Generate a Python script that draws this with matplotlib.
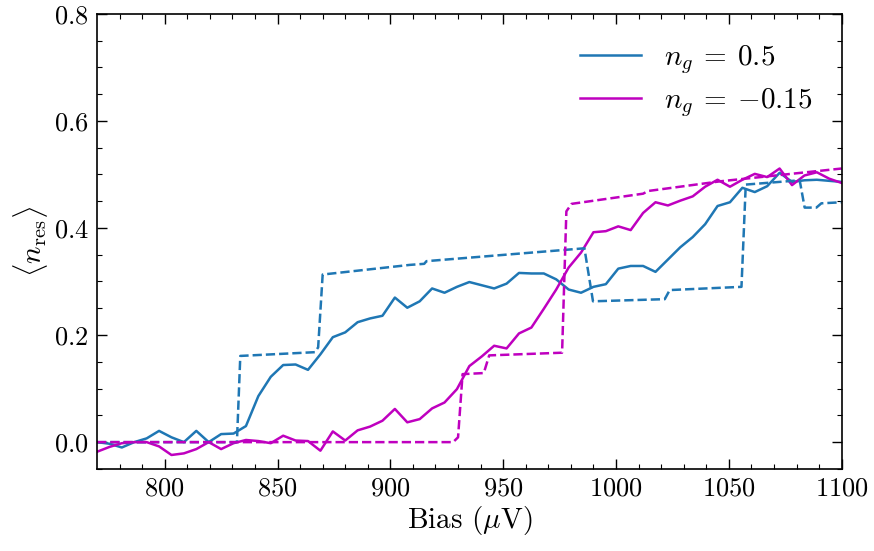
import numpy as np
import matplotlib
matplotlib.use("Agg")
import matplotlib.pyplot as plt

plt.rcParams["font.family"] = "serif"
plt.rcParams["font.serif"] = ["cmr10"]
plt.rcParams["mathtext.fontset"] = "cm"
plt.rcParams["axes.formatter.use_mathtext"] = True
plt.rcParams["axes.unicode_minus"] = True

# measured data, bias sweep 770..1100 uV in 5.5 uV steps
bias = np.linspace(770, 1100, 61)

n_res_05 = [
    0.000, -0.003, -0.010, 0.000, 0.007, 0.021, 0.009, 0.000, 0.021, 0.000,
    0.015, 0.016, 0.030, 0.086, 0.122, 0.144, 0.145, 0.135, 0.164, 0.196,
    0.205, 0.224, 0.231, 0.236, 0.270, 0.251, 0.263, 0.287, 0.279, 0.290,
    0.299, 0.293, 0.287, 0.296, 0.316, 0.315, 0.315, 0.304, 0.285, 0.279,
    0.290, 0.295, 0.324, 0.329, 0.329, 0.318, 0.341, 0.364, 0.383, 0.407,
    0.441, 0.448, 0.475, 0.467, 0.478, 0.503, 0.486, 0.489, 0.490, 0.488,
    0.486,
]

n_res_m015 = [
    -0.018, -0.009, -0.002, 0.000, 0.000, -0.008, -0.024, -0.021, -0.013, 0.000,
    -0.013, -0.002, 0.004, 0.002, -0.002, 0.012, 0.003, 0.002, -0.016, 0.020,
    0.003, 0.022, 0.029, 0.040, 0.062, 0.037, 0.043, 0.063, 0.074, 0.099,
    0.142, 0.160, 0.180, 0.175, 0.203, 0.214, 0.249, 0.285, 0.326, 0.354,
    0.392, 0.394, 0.403, 0.396, 0.428, 0.448, 0.442, 0.451, 0.459, 0.477,
    0.490, 0.477, 0.490, 0.501, 0.495, 0.511, 0.480, 0.498, 0.504, 0.492,
    0.484,
]

# theory curves (dashed), read as corner points
theory_05_x = [770, 832.0, 833.5, 866.6, 868.0, 870.0, 908.6, 915.0, 916.0,
               986.0, 989.8, 1021.6, 1023.8, 1055.6, 1057.5, 1081.4, 1083.6,
               1088.8, 1091.0, 1100]
theory_05_y = [0.000, 0.000, 0.161, 0.168, 0.177, 0.313, 0.331, 0.333, 0.338,
               0.362, 0.263, 0.267, 0.284, 0.290, 0.481, 0.489, 0.438,
               0.438, 0.446, 0.448]

theory_m015_x = [770, 927.8, 930.0, 932.0, 941.4, 943.8, 976.1, 978.0, 980.3,
                 1012.0, 1014.2, 1046.0, 1100]
theory_m015_y = [0.000, 0.000, 0.009, 0.127, 0.129, 0.162, 0.167, 0.431, 0.445,
                 0.464, 0.469, 0.487, 0.511]

c_blue = "#1f77b4"
c_mag = "m"

fig = plt.figure(figsize=(8.74, 5.51), dpi=100)
ax = fig.add_axes([0.111, 0.149, 0.852, 0.826])

ax.plot(bias, n_res_05, color=c_blue, lw=1.8, label=r"$n_g\:=\:0.5$")
ax.plot(bias, n_res_m015, color=c_mag, lw=1.8, label=r"$n_g\:=\:{-}0.15$")
ax.plot(theory_05_x, theory_05_y, color=c_blue, lw=1.8, ls="--")
ax.plot(theory_m015_x, theory_m015_y, color=c_mag, lw=1.8, ls="--")

ax.set_xlim(770, 1100)
ax.set_ylim(-0.05, 0.8)
ax.set_xticks([800, 850, 900, 950, 1000, 1050, 1100])
ax.set_yticks([0.0, 0.2, 0.4, 0.6, 0.8])
ax.set_xticks(np.arange(780, 1101, 10), minor=True)
ax.set_yticks(np.arange(-0.05, 0.801, 0.05), minor=True)
ax.tick_params(which="both", direction="in", top=True, right=True, labelsize=19)
ax.tick_params(which="major", length=7, width=1.0, pad=6)
ax.tick_params(which="minor", length=3.5, width=0.8)
for s in ax.spines.values():
    s.set_linewidth(1.2)

ax.set_xlabel(r"Bias ($\mu$V)", fontsize=21, labelpad=2)
ax.set_ylabel(r"$\langle n_{\rm res} \rangle$", fontsize=21, labelpad=3)

ax.legend(loc="upper right", frameon=False, fontsize=21, handlelength=2.1,
          handletextpad=0.8, labelspacing=0.35, borderaxespad=0.6)

fig.savefig("out.png", dpi=100)
